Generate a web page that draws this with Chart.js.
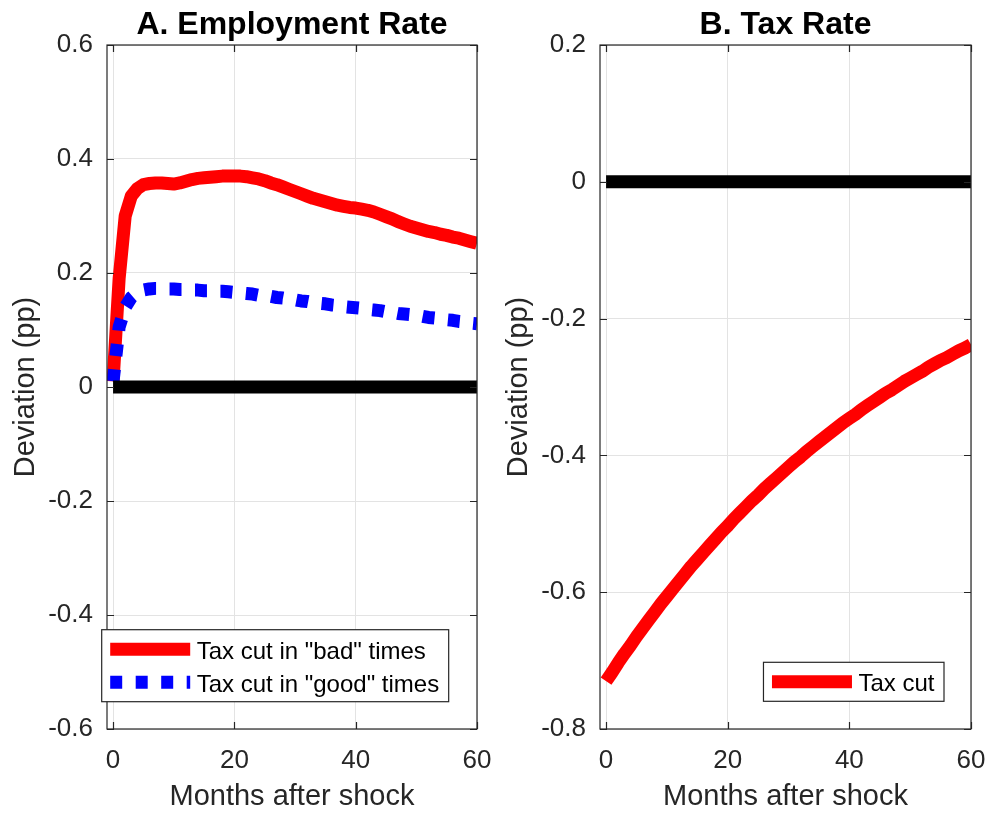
<!DOCTYPE html>
<html>
<head>
<meta charset="utf-8">
<title>Employment and tax rate responses</title>
<script src="https://cdn.jsdelivr.net/npm/chart.js@4.4.1/dist/chart.umd.min.js"></script>
<style>
    html, body { margin: 0; padding: 0; background: #fff; }
    #wrap { position: relative; width: 990px; height: 818px; }
    .panel { position: absolute; top: 0; height: 818px; }
</style>
</head>
<body>
<div id="wrap">
    <div class="panel" style="left:0;width:493px"><canvas id="employmentChart" width="493" height="818"></canvas></div>
    <div class="panel" style="left:493px;width:497px"><canvas id="taxChart" width="497" height="818"></canvas></div>
</div>
<script>
// ---- data ----
const months = [0, 1, 2, 3, 4, 5, 6, 7, 8, 9, 10, 11, 12, 13, 14, 15, 16, 17, 18, 19, 20,
    21, 22, 23, 24, 25, 26, 27, 28, 29, 30, 31, 32, 33, 34, 35, 36, 37, 38, 39, 40,
    41, 42, 43, 44, 45, 46, 47, 48, 49, 50, 51, 52, 53, 54, 55, 56, 57, 58, 59, 60];

// Panel A: employment rate deviation (pp)
const badTimesEmployment = [0.01, 0.19, 0.30, 0.335, 0.348, 0.355, 0.357, 0.358, 0.358, 0.357,
    0.356, 0.358, 0.361, 0.364, 0.366, 0.367, 0.368, 0.369, 0.370, 0.370,
    0.370, 0.370, 0.369, 0.367, 0.365, 0.362, 0.358, 0.355, 0.351, 0.347,
    0.343, 0.339, 0.335, 0.331, 0.328, 0.325, 0.322, 0.319, 0.317, 0.315,
    0.314, 0.312, 0.310, 0.307, 0.303, 0.299, 0.295, 0.290, 0.286, 0.282,
    0.279, 0.276, 0.273, 0.271, 0.268, 0.266, 0.263, 0.261, 0.258, 0.255, 0.252];
const goodTimesEmployment = [0.01, 0.105, 0.14, 0.157, 0.166, 0.170, 0.172, 0.173, 0.173, 0.172,
    0.172, 0.171, 0.171, 0.170, 0.170, 0.169, 0.169, 0.168, 0.168, 0.167,
    0.166, 0.165, 0.164, 0.163, 0.161, 0.160, 0.159, 0.157, 0.156, 0.154,
    0.153, 0.151, 0.150, 0.148, 0.147, 0.146, 0.144, 0.143, 0.141, 0.140,
    0.139, 0.138, 0.136, 0.135, 0.134, 0.132, 0.131, 0.129, 0.128, 0.127,
    0.125, 0.124, 0.122, 0.121, 0.120, 0.118, 0.117, 0.115, 0.114, 0.112, 0.111];

// Panel B: tax rate deviation (pp)
const taxCutRate = [-0.730, -0.717, -0.703, -0.690, -0.678, -0.665, -0.653, -0.641, -0.629, -0.617,
    -0.606, -0.595, -0.584, -0.573, -0.562, -0.552, -0.542, -0.532, -0.522, -0.512,
    -0.503, -0.493, -0.484, -0.475, -0.466, -0.458, -0.449, -0.441, -0.433, -0.425,
    -0.417, -0.409, -0.402, -0.394, -0.387, -0.380, -0.373, -0.366, -0.359, -0.352,
    -0.346, -0.340, -0.333, -0.327, -0.321, -0.315, -0.309, -0.304, -0.298, -0.292,
    -0.287, -0.282, -0.277, -0.271, -0.266, -0.261, -0.257, -0.252, -0.247, -0.243, -0.238];

// zero reference line
const zeroLineX = [0, 60];
const zeroLineY = [0, 0];

// axis ticks
const monthTicks = [0, 20, 40, 60];
const employmentTicks = [-0.6, -0.4, -0.2, 0, 0.2, 0.4, 0.6];
const taxTicks = [-0.8, -0.6, -0.4, -0.2, 0, 0.2];

// ---- style ----
const FONT = '"Liberation Sans", Arial, Helvetica, sans-serif';
const AXIS_COLOR = '#262626';
const GRID_COLOR = '#e3e3e3';
const LINE_W = 13;
const TICK_LEN = 7;

function toPoints(xs, ys) {
    return xs.map((x, i) => ({ x: x, y: ys[i] }));
}

// drop the label-overflow padding so the plot box sits exactly where the layout puts it
function noOverflow(s) {
    s.paddingLeft = 0;
    s.paddingRight = 0;
    s.paddingTop = 0;
    s.paddingBottom = 0;
}

// MATLAB-like box with inward ticks on all sides, plus an in-axes legend
const matlabAxes = {
    id: 'matlabAxes',
    afterDatasetsDraw(chart) {
        const { ctx, chartArea: a, scales } = chart;
        ctx.save();
        ctx.strokeStyle = AXIS_COLOR;
        ctx.lineWidth = 1.2;
        ctx.beginPath();
        scales.x.ticks.forEach(t => {
            const px = Math.round(scales.x.getPixelForValue(t.value)) + 0.5;
            ctx.moveTo(px, a.bottom); ctx.lineTo(px, a.bottom - TICK_LEN);
            ctx.moveTo(px, a.top); ctx.lineTo(px, a.top + TICK_LEN);
        });
        scales.y.ticks.forEach(t => {
            const py = Math.round(scales.y.getPixelForValue(t.value)) + 0.5;
            ctx.moveTo(a.left, py); ctx.lineTo(a.left + TICK_LEN, py);
            ctx.moveTo(a.right, py); ctx.lineTo(a.right - TICK_LEN, py);
        });
        ctx.stroke();
        ctx.strokeRect(a.left, a.top, a.right - a.left, a.bottom - a.top);
        ctx.restore();
    },
    afterDraw(chart, args, opts) {
        const lg = opts.legend;
        if (!lg) return;
        const { ctx, chartArea: a } = chart;
        const items = lg.items.map(i => chart.data.datasets[i]);
        ctx.save();
        ctx.font = '24px ' + FONT;
        const textW = Math.max(...items.map(d => ctx.measureText(d.label).width));
        const padL = 8.5, sampleW = 80, gap = 6.5, padR = 9.5, rowH = 33;
        const w = padL + sampleW + gap + textW + padR;
        const h = rowH * items.length + 6;
        const left = lg.anchor === 'left' ? a.left + lg.dx : a.right + lg.dx - w;
        const top = a.bottom + lg.dy - h;
        ctx.fillStyle = '#fff';
        ctx.fillRect(left, top, w, h);
        ctx.strokeStyle = AXIS_COLOR;
        ctx.lineWidth = 1.2;
        ctx.strokeRect(left, top, w, h);
        items.forEach((d, i) => {
            const cy = top + 3 + rowH / 2 + i * rowH;
            ctx.beginPath();
            ctx.strokeStyle = d.borderColor;
            ctx.lineWidth = d.borderWidth;
            ctx.lineCap = 'butt';
            ctx.setLineDash(d.borderDash || []);
            ctx.moveTo(left + padL, cy);
            ctx.lineTo(left + padL + sampleW, cy);
            ctx.stroke();
            ctx.setLineDash([]);
            ctx.fillStyle = '#000';
            ctx.textAlign = 'left';
            ctx.textBaseline = 'middle';
            ctx.fillText(d.label, left + padL + sampleW + gap, cy + 3);
        });
        ctx.restore();
    }
};

function makePanel(canvasId, cfg) {
    const ctx = document.getElementById(canvasId).getContext('2d');
    return new Chart(ctx, {
        type: 'line',
        data: { datasets: cfg.datasets },
        plugins: [matlabAxes],
        options: {
            responsive: false,
            animation: false,
            events: [],
            layout: { padding: { left: 0, right: cfg.rightPad, top: 0, bottom: 0 } },
            elements: {
                point: { radius: 0 },
                line: { tension: 0, borderJoinStyle: 'round', borderCapStyle: 'butt' }
            },
            plugins: {
                legend: { display: false },
                tooltip: { enabled: false },
                matlabAxes: { legend: cfg.legend }
            },
            scales: {
                x: {
                    type: 'linear',
                    position: 'bottom',
                    min: -1,
                    max: 60,
                    afterBuildTicks: s => { s.ticks = monthTicks.map(v => ({ value: v })); },
                    afterFit: s => { s.height = 89; noOverflow(s); },
                    grid: { color: GRID_COLOR, lineWidth: 1, drawTicks: false },
                    border: { display: false },
                    ticks: {
                        color: AXIS_COLOR,
                        font: { family: FONT, size: 26 },
                        padding: 16,
                        maxRotation: 0,
                        autoSkip: false
                    },
                    title: {
                        display: true,
                        text: 'Months after shock',
                        color: AXIS_COLOR,
                        font: { family: FONT, size: 29 },
                        padding: { top: 0, bottom: 3.6 }
                    }
                },
                xTop: {
                    type: 'linear',
                    position: 'top',
                    min: -1,
                    max: 60,
                    afterFit: s => { s.height = 45; noOverflow(s); },
                    ticks: { display: false },
                    grid: { display: false },
                    border: { display: false },
                    title: {
                        display: true,
                        text: cfg.title,
                        color: '#000',
                        font: { family: FONT, size: 32, weight: 'bold' },
                        padding: { top: 5.5, bottom: 0 }
                    }
                },
                y: {
                    type: 'linear',
                    position: 'left',
                    min: cfg.yTicks[0],
                    max: cfg.yTicks[cfg.yTicks.length - 1],
                    afterBuildTicks: s => { s.ticks = cfg.yTicks.map(v => ({ value: v })); },
                    afterFit: s => { s.width = 107; noOverflow(s); },
                    grid: { color: GRID_COLOR, lineWidth: 1, drawTicks: false },
                    border: { display: false },
                    ticks: {
                        color: AXIS_COLOR,
                        font: { family: FONT, size: 26 },
                        padding: 14,
                        autoSkip: false,
                        callback: v => String(v)
                    },
                    title: {
                        display: true,
                        text: 'Deviation (pp)',
                        color: AXIS_COLOR,
                        font: { family: FONT, size: 29 },
                        padding: { top: 8.6, bottom: 0 }
                    }
                }
            }
        }
    });
}

const zeroLine = {
    label: 'zero',
    data: toPoints(zeroLineX, zeroLineY),
    borderColor: '#000',
    borderWidth: LINE_W,
    order: -1
};

makePanel('employmentChart', {
    title: 'A. Employment Rate',
    rightPad: 16,
    yTicks: employmentTicks,
    legend: { items: [0, 1], anchor: 'left', dx: -5.3, dy: -27.3 },
    datasets: [
        {
            label: 'Tax cut in "bad" times',
            data: toPoints(months, badTimesEmployment),
            borderColor: '#ff0000',
            borderWidth: LINE_W,
            order: 1
        },
        {
            label: 'Tax cut in "good" times',
            data: toPoints(months, goodTimesEmployment),
            borderColor: '#0000ff',
            borderWidth: LINE_W,
            borderDash: [12, 13.5],
            order: 0
        },
        zeroLine
    ]
});

makePanel('taxChart', {
    title: 'B. Tax Rate',
    rightPad: 19,
    yTicks: taxTicks,
    legend: { items: [0], anchor: 'right', dx: -27, dy: -27.7 },
    datasets: [
        {
            label: 'Tax cut',
            data: toPoints(months, taxCutRate),
            borderColor: '#ff0000',
            borderWidth: LINE_W,
            order: 1
        },
        Object.assign({}, zeroLine)
    ]
});
</script>
</body>
</html>
